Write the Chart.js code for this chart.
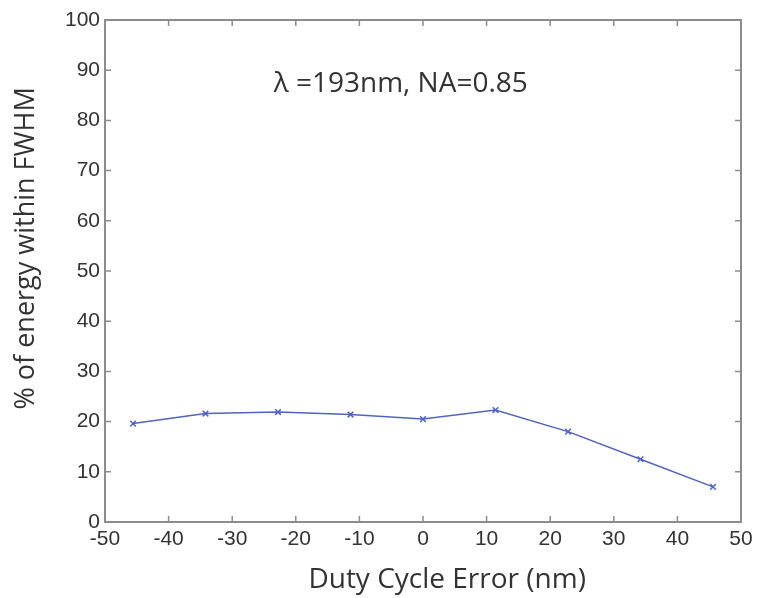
<!DOCTYPE html>
<html>
<head>
<meta charset="utf-8">
<script src="https://cdn.jsdelivr.net/npm/chart.js@4/dist/chart.umd.min.js"></script>
<style>
  html, body { margin: 0; padding: 0; background: #fff; }
  #wrap { width: 759px; height: 598px; }
</style>
</head>
<body>
<div id="wrap"><canvas id="chart" width="759" height="598"></canvas></div>
<script>
// values
const dutyError = [-45.6, -34.2, -22.8, -11.4, 0, 11.4, 22.8, 34.2, 45.6];
const energyPct = [19.6, 21.6, 21.9, 21.4, 20.5, 22.3, 18.0, 12.5, 7.0];
const xTicks = [-50, -40, -30, -20, -10, 0, 10, 20, 30, 40, 50];
const yTicks = [0, 10, 20, 30, 40, 50, 60, 70, 80, 90, 100];
const note = 'λ =193nm, NA=0.85';
const xTitle = 'Duty Cycle Error (nm)';
const yTitle = '% of energy within FWHM';

const axisGrey = '#8c8c8c';
const textGrey = '#333333';
const lineBlue = '#4f63c4';
const titleFont = '"Open Sans", "DejaVu Sans", sans-serif';
const tickFont = '"Liberation Sans", Arial, sans-serif';

// matlab style box: full frame, inward ticks on all sides, titles a bit off-centre like the original
const boxTicks = {
    id: 'boxTicks',
    afterDraw (chart) {
        const ctx = chart.ctx;
        const a = chart.chartArea;
        const x = chart.scales.x;
        const y = chart.scales.y;
        const len = 6;
        ctx.save();
        ctx.strokeStyle = axisGrey;
        ctx.lineWidth = 2;
        ctx.strokeRect(a.left, a.top, a.right - a.left, a.bottom - a.top);
        ctx.lineWidth = 1.5;
        ctx.beginPath();
        xTicks.forEach(v => {
            const px = x.getPixelForValue(v);
            ctx.moveTo(px, a.bottom); ctx.lineTo(px, a.bottom - len);
            ctx.moveTo(px, a.top); ctx.lineTo(px, a.top + len);
        });
        yTicks.forEach(v => {
            const py = y.getPixelForValue(v);
            ctx.moveTo(a.left, py); ctx.lineTo(a.left + len, py);
            ctx.moveTo(a.right, py); ctx.lineTo(a.right - len, py);
        });
        ctx.stroke();

        ctx.fillStyle = textGrey;
        ctx.textAlign = 'center';
        ctx.textBaseline = 'middle';
        ctx.font = '28px ' + titleFont;
        ctx.fillText(note, x.getPixelForValue(-3.5), y.getPixelForValue(87.3));

        ctx.fillText(xTitle, x.getPixelForValue(3.8), chart.height - 18);

        ctx.font = '27px ' + titleFont;
        ctx.translate(26, y.getPixelForValue(54.5));
        ctx.rotate(-Math.PI / 2);
        ctx.fillText(yTitle, 0, 0);
        ctx.restore();
    }
};

new Chart(document.getElementById('chart'), {
    type: 'scatter',
    data: {
        datasets: [
            {
                data: dutyError.map((v, i) => ({ x: v, y: energyPct[i] })),
                showLine: true,
                borderColor: lineBlue,
                borderWidth: 1.5,
                pointStyle: 'crossRot',
                pointRadius: 4,
                pointBorderColor: lineBlue,
                pointBorderWidth: 1.5,
                tension: 0
            }
        ]
    },
    plugins: [boxTicks],
    options: {
        responsive: false,
        animation: false,
        layout: { padding: { top: 20, right: 18, left: 0, bottom: 0 } },
        plugins: {
            legend: { display: false },
            tooltip: { enabled: false }
        },
        scales: {
            x: {
                type: 'linear',
                min: -50,
                max: 50,
                afterBuildTicks: scale => { scale.ticks = xTicks.map(v => ({ value: v })); },
                afterFit: scale => { scale.height = 76; },
                grid: { drawOnChartArea: false, drawTicks: false },
                border: { color: axisGrey, width: 2 },
                ticks: { color: textGrey, font: { family: tickFont, size: 21 }, padding: 5, maxRotation: 0 }
            },
            y: {
                min: 0,
                max: 100,
                afterBuildTicks: scale => { scale.ticks = yTicks.map(v => ({ value: v })); },
                afterFit: scale => { scale.width = 105; },
                grid: { drawOnChartArea: false, drawTicks: false },
                border: { color: axisGrey, width: 2 },
                ticks: { color: textGrey, font: { family: tickFont, size: 21 }, padding: 5 }
            }
        }
    }
});
</script>
</body>
</html>
